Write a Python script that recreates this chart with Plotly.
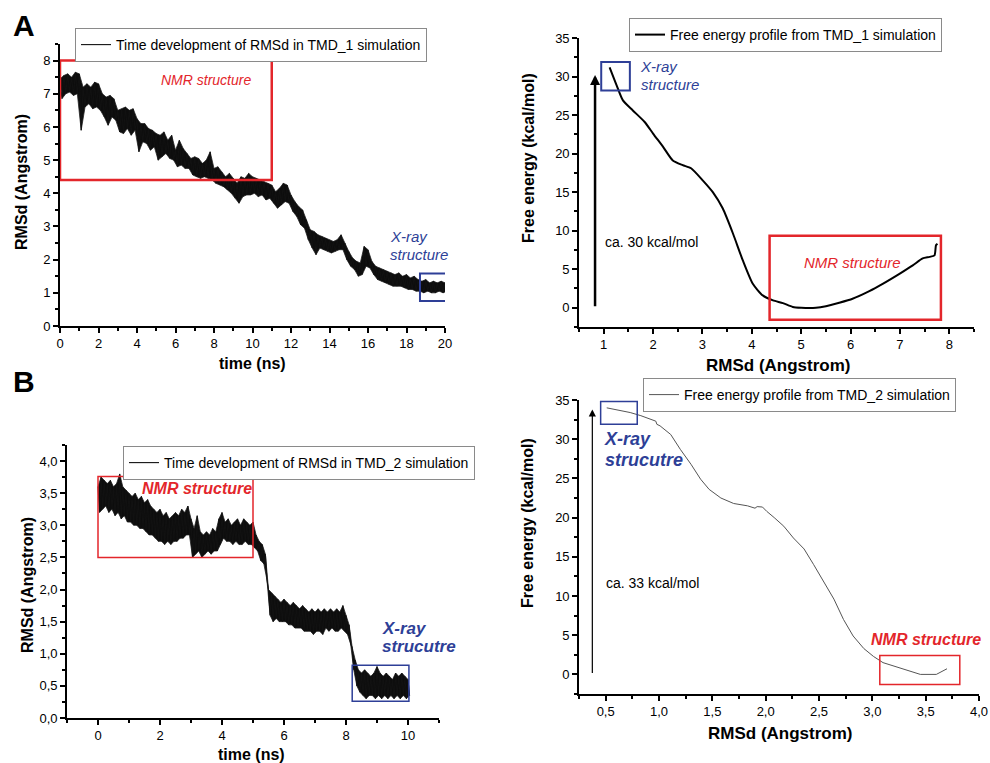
import numpy as np
import plotly.graph_objects as go

# ---------------- DATA ----------------
# Panel A (left): RMSd trace of TMD_1, upper/lower envelope of the noisy band every 0.2 ns
tmd1_time = [round(i * 0.2, 1) for i in range(101)]
tmd1_hi = [7.45, 7.55, 7.6, 7.5, 7.65, 7.6, 7.2, 7.3, 7.2, 7.35,
           7.3, 7.0, 6.9, 6.95, 6.85, 6.5, 6.55, 6.6, 6.5, 6.55,
           6.25, 6.1, 6.1, 5.95, 5.9, 5.8, 5.75, 5.85, 5.6, 5.75,
           5.3, 5.6, 5.35, 5.2, 5.05, 5.1, 5.05, 4.9, 5.0, 5.25,
           4.75, 4.8, 4.65, 4.5, 4.6, 4.45, 4.3, 4.5, 4.45, 4.6,
           4.5, 4.45, 4.4, 4.35, 4.3, 4.25, 4.05, 4.15, 4.3, 4.25,
           3.95, 3.75, 3.6, 3.5, 3.2, 2.9, 2.85, 2.75, 2.7, 2.65,
           2.6, 2.55, 2.6, 2.75, 2.5, 2.25, 2.05, 1.95, 1.9, 2.4,
           2.3, 1.95, 1.8, 1.75, 1.7, 1.65, 1.6, 1.55, 1.6, 1.5,
           1.55, 1.45, 1.5, 1.4, 1.35, 1.4, 1.3, 1.35, 1.3, 1.35, 1.3]
tmd1_lo = [6.85, 7.0, 7.05, 6.95, 7.0, 5.9, 6.6, 6.7, 6.55, 6.6,
           6.5, 6.3, 6.05, 6.3, 6.2, 5.85, 5.8, 5.95, 5.75, 5.9,
           5.25, 5.55, 5.5, 5.3, 5.4, 5.0, 5.1, 5.2, 5.05, 5.0,
           4.8, 4.85, 4.75, 4.75, 4.55, 4.5, 4.45, 4.5, 4.45, 4.4,
           4.3, 4.25, 4.2, 4.1, 4.0, 3.85, 3.7, 3.9, 3.95, 3.95,
           4.0, 3.9, 3.95, 3.8, 3.85, 3.7, 3.55, 3.65, 3.75, 3.7,
           3.45, 3.3, 3.05, 2.95, 2.6, 2.35, 2.15, 2.35, 2.3, 2.25,
           2.2, 2.25, 2.3, 2.3, 2.0, 1.8, 1.7, 1.5, 1.55, 1.8,
           1.75, 1.55, 1.4, 1.35, 1.3, 1.25, 1.2, 1.2, 1.2, 1.15,
           1.1, 1.1, 1.05, 1.05, 1.0, 1.05, 1.0, 1.0, 1.05, 1.0, 1.05]

# Panel A (right): free energy profile from TMD_1
fe1_rmsd = [1.12, 1.26, 1.39, 1.59, 1.83, 2.0, 2.2, 2.4, 2.6, 2.77, 3.01, 3.21, 3.41,
            3.62, 3.82, 4.02, 4.22, 4.43, 4.63, 4.83, 5.0, 5.3, 5.5, 5.77, 6.04,
            6.38, 6.65, 6.99, 7.26, 7.46, 7.6, 7.7, 7.73, 7.76]
fe1_energy = [31.2, 28.9, 26.9, 25.6, 24.1, 22.6, 20.9, 19.1, 18.5, 18.1, 16.5, 15.0, 12.9,
              9.6, 6.1, 3.1, 1.6, 0.95, 0.6, 0.1, 0.0, 0.0, 0.2, 0.65, 1.17,
              2.16, 3.1, 4.4, 5.5, 6.4, 6.6, 6.8, 8.1, 8.3]

# Panel B (left): RMSd trace of TMD_2, envelope every 0.1 ns
tmd2_time = [round(i * 0.1, 1) for i in range(101)]
tmd2_hi = [3.6, 3.75, 3.7, 3.65, 3.7, 3.6, 3.65, 3.8, 3.6, 3.55,
           3.5, 3.45, 3.5, 3.4, 3.45, 3.35, 3.4, 3.3, 3.25, 3.2,
           3.25, 3.15, 3.2, 3.1, 3.15, 3.2, 3.15, 3.25, 3.2, 3.3,
           3.1, 2.95, 3.15, 2.9, 2.85, 2.9, 2.85, 2.95, 2.9, 3.1,
           3.2, 3.05, 3.1, 3.0, 3.05, 3.1, 3.0, 3.1, 3.05, 3.0,
           3.05, 2.85, 2.75, 2.7, 2.55, 2.0, 1.95, 1.9, 1.85, 1.8,
           1.85, 1.8, 1.75, 1.8, 1.75, 1.7, 1.75, 1.7, 1.65, 1.7,
           1.65, 1.7, 1.65, 1.7, 1.65, 1.7, 1.65, 1.7, 1.65, 1.75,
           1.6, 1.45, 1.1, 0.9, 0.75, 0.7, 0.75, 0.7, 0.65, 0.7,
           0.8, 0.7, 0.65, 0.7, 0.65, 0.6, 0.7, 0.65, 0.7, 0.65, 0.6]
tmd2_lo = [3.2, 3.25, 3.3, 3.2, 3.25, 3.15, 3.2, 3.1, 3.15, 3.05,
           3.05, 3.0, 3.0, 2.95, 2.95, 2.9, 2.85, 2.85, 2.8, 2.75,
           2.75, 2.7, 2.75, 2.7, 2.75, 2.75, 2.8, 2.8, 2.85, 2.85,
           2.5, 2.55, 2.6, 2.5, 2.55, 2.6, 2.55, 2.6, 2.6, 2.7,
           2.8, 2.75, 2.75, 2.7, 2.75, 2.7, 2.7, 2.75, 2.7, 2.7,
           2.65, 2.6, 2.45, 2.4, 2.15, 1.6, 1.5, 1.55, 1.5, 1.5,
           1.5, 1.45, 1.45, 1.4, 1.4, 1.4, 1.35, 1.35, 1.35, 1.3,
           1.35, 1.35, 1.3, 1.4, 1.35, 1.4, 1.35, 1.35, 1.4, 1.35,
           1.3, 1.15, 0.75, 0.5, 0.4, 0.35, 0.3, 0.35, 0.35, 0.3,
           0.35, 0.3, 0.35, 0.3, 0.35, 0.3, 0.35, 0.3, 0.35, 0.3, 0.35]

# Panel B (right): free energy profile from TMD_2
fe2_rmsd = [0.51, 0.61, 0.73, 0.83, 0.92, 0.97, 0.98, 1.01, 1.11, 1.2, 1.3, 1.39, 1.47,
            1.58, 1.7, 1.83, 1.9, 1.92, 1.97, 2.01, 2.08, 2.17, 2.26, 2.36, 2.45,
            2.54, 2.64, 2.73, 2.82, 2.92, 3.01, 3.1, 3.23, 3.35, 3.45, 3.6, 3.7]
fe2_energy = [34.0, 33.7, 33.4, 33.0, 32.6, 32.3, 31.9, 31.7, 30.6, 28.7, 26.8, 24.9, 23.6,
              22.5, 21.8, 21.5, 21.2, 21.4, 21.35, 20.8, 20.0, 18.9, 17.4, 16.0, 14.0,
              11.9, 9.6, 7.0, 4.9, 3.3, 2.3, 1.5, 0.94, 0.47, 0.0, 0.0, 0.72]

# ---------------- STYLE ----------------
FONT = "Liberation Sans, Arial, sans-serif"
RED = "#e3262b"
BLUE = "#2e3f97"
H, W = 763.0, 990.0


def zigzag(t, hi, lo):
    t = np.asarray(t, float)
    step = t[1] - t[0]
    xs = np.empty(2 * len(t))
    ys = np.empty(2 * len(t))
    xs[0::2] = t
    xs[1::2] = t + step / 2
    ys[0::2] = hi
    ys[1::2] = lo
    return xs, ys


def band(t, hi, lo):
    t = np.asarray(t, float)
    step = t[1] - t[0]
    xs = np.concatenate([t, (t + step / 2)[::-1]])
    ys = np.concatenate([np.asarray(hi), np.asarray(lo)[::-1]])
    return xs, ys


fig = go.Figure()

bx1, by1 = band(tmd1_time, tmd1_hi, tmd1_lo)
fig.add_trace(go.Scatter(x=bx1, y=by1, mode="lines", fill="toself", fillcolor="#0d0d0d",
                         line=dict(color="#222222", width=0.8, simplify=False), showlegend=False,
                         hoverinfo="skip", xaxis="x", yaxis="y"))
x1, y1 = zigzag(tmd1_time, tmd1_hi, tmd1_lo)
fig.add_trace(go.Scatter(x=x1, y=y1, mode="lines", line=dict(color="#111111", width=1.1, simplify=False),
                         name="Time development of RMSd in TMD_1 simulation", showlegend=True,
                         xaxis="x", yaxis="y", legend="legend"))
fig.add_trace(go.Scatter(x=fe1_rmsd, y=fe1_energy, mode="lines",
                         line=dict(color="black", width=2, shape="spline", smoothing=0.6),
                         name="Free energy profile from TMD_1 simulation", showlegend=True,
                         xaxis="x2", yaxis="y2", legend="legend2"))
bx3, by3 = band(tmd2_time, tmd2_hi, tmd2_lo)
fig.add_trace(go.Scatter(x=bx3, y=by3, mode="lines", fill="toself", fillcolor="#0d0d0d",
                         line=dict(color="#222222", width=0.8, simplify=False), showlegend=False,
                         hoverinfo="skip", xaxis="x3", yaxis="y3"))
x3, y3 = zigzag(tmd2_time, tmd2_hi, tmd2_lo)
fig.add_trace(go.Scatter(x=x3, y=y3, mode="lines", line=dict(color="#111111", width=1.1, simplify=False),
                         name="Time development of RMSd in TMD_2 simulation", showlegend=True,
                         xaxis="x3", yaxis="y3", legend="legend3"))
fig.add_trace(go.Scatter(x=fe2_rmsd, y=fe2_energy, mode="lines", line=dict(color="#555555", width=1),
                         name="Free energy profile from TMD_2 simulation", showlegend=True,
                         xaxis="x4", yaxis="y4", legend="legend4"))


def ax(domain, rng, dtick, minor, tick0=None, fmt=None, anchor=None):
    d = dict(domain=domain, range=rng, dtick=dtick, showline=True, linecolor="black", linewidth=1.6,
             ticks="outside", ticklen=5, tickwidth=1.5, tickcolor="black", automargin=False,
             showgrid=False, zeroline=False, mirror=False,
             tickfont=dict(family=FONT, size=13, color="black"),
             minor=dict(dtick=minor, ticks="outside", ticklen=3, tickwidth=1.5, tickcolor="black", showgrid=False),
             anchor=anchor)
    if tick0 is not None:
        d["tick0"] = tick0
    if fmt is not None:
        d["tickformat"] = fmt
    return d


fig.update_layout(
    width=990, height=763, margin=dict(l=0, r=0, t=0, b=0, autoexpand=False),
    paper_bgcolor="white", plot_bgcolor="white", separators=",.", showlegend=True,
    font=dict(family=FONT, color="black"),
    xaxis=ax([60 / W, 445 / W], [0, 20], 2, 1, anchor="y"),
    yaxis=ax([1 - 326 / H, 1 - 44 / H], [0, 8.5], 1, 0.5, anchor="x"),
    xaxis2=ax([579 / W, 974 / W], [0.5, 8.5], 1, 0.5, anchor="y2"),
    yaxis2=ax([1 - 327 / H, 1 - 38 / H], [-2.5, 35], 5, 2.5, tick0=0, anchor="x2"),
    xaxis3=ax([67 / W, 439 / W], [-1, 11], 2, 1, tick0=0, anchor="y3"),
    yaxis3=ax([1 - 718 / H, 1 - 445 / H], [0, 4.25], 0.5, 0.25, fmt=".1f", anchor="x3"),
    xaxis4=ax([579 / W, 979 / W], [0.25, 4.0], 0.5, 0.25, tick0=0.5, fmt=".1f", anchor="y4"),
    yaxis4=ax([1 - 694 / H, 1 - 400 / H], [-2.5, 35], 5, 2.5, tick0=0, anchor="x4"),
)

legend_style = dict(bgcolor="white", bordercolor="#8a8a8a", borderwidth=1,
                    font=dict(family=FONT, size=14, color="black"),
                    xanchor="left", yanchor="top", itemwidth=30, tracegroupgap=0)
fig.update_layout(
    legend=dict(x=75 / W, y=1 - 28 / H, **legend_style),
    legend2=dict(x=629 / W, y=1 - 18 / H, **legend_style),
    legend3=dict(x=123 / W, y=1 - 446 / H, **legend_style),
    legend4=dict(x=643 / W, y=1 - 378 / H, **legend_style),
)

shapes = [
    dict(type="rect", xref="x", yref="y", x0=0, x1=11, y0=4.4, y1=8.0, line=dict(color=RED, width=2.5)),
    dict(type="rect", xref="x", yref="y", x0=18.7, x1=20.1, y0=0.75, y1=1.58, line=dict(color=BLUE, width=2)),
    dict(type="rect", xref="x2", yref="y2", x0=0.95, x1=1.53, y0=28.2, y1=31.9, line=dict(color=BLUE, width=2)),
    dict(type="rect", xref="x2", yref="y2", x0=4.36, x1=7.83, y0=-1.56, y1=9.35, line=dict(color=RED, width=2.5)),
    dict(type="rect", xref="x3", yref="y3", x0=0, x1=5.0, y0=2.5, y1=3.76, line=dict(color=RED, width=1.5)),
    dict(type="rect", xref="x3", yref="y3", x0=8.2, x1=10.03, y0=0.26, y1=0.82, line=dict(color=BLUE, width=1.5)),
    dict(type="rect", xref="x4", yref="y4", x0=0.453, x1=0.796, y0=31.9, y1=34.8, line=dict(color=BLUE, width=1.5)),
    dict(type="rect", xref="x4", yref="y4", x0=3.07, x1=3.82, y0=-1.28, y1=2.42, line=dict(color=RED, width=1.5)),
]
fig.update_layout(shapes=shapes)


def txt(text, x, y, xref, yref, size, color, xanchor="left", bold=False, italic=True, angle=0):
    return dict(text=text, x=x, y=y, xref=xref, yref=yref, showarrow=False, xanchor=xanchor, yanchor="middle",
                textangle=angle,
                font=dict(family=FONT, size=size, color=color, weight="bold" if bold else "normal",
                          style="italic" if italic else "normal"))


def ptxt(text, px, py, size, angle=0):
    return txt(text, px / W, 1 - py / H, "paper", "paper", size, "black", xanchor="center",
               bold=True, italic=False, angle=angle)


annotations = [
    ptxt("A", 24, 25, 30),
    ptxt("B", 24, 381, 30),
    # axis titles
    ptxt("RMSd (Angstrom)", 21, 182, 16, angle=-90),
    ptxt("time (ns)", 253, 363, 16),
    ptxt("Free energy (kcal/mol)", 528, 158, 16, angle=-90),
    ptxt("RMSd (Angstrom)", 778, 365, 17),
    ptxt("RMSd (Angstrom)", 27, 585, 16, angle=-90),
    ptxt("time (ns)", 252, 754, 16),
    ptxt("Free energy (kcal/mol)", 527, 523, 16, angle=-90),
    ptxt("RMSd (Angstrom)", 780, 733, 17),
    # in-plot labels
    txt("NMR structure", 7.6, 7.4, "x", "y", 14, RED, xanchor="center"),
    txt("X-ray", 17.05, 2.69, "x", "y", 15, BLUE),
    txt("structure", 17.05, 2.17, "x", "y", 15, BLUE),
    txt("X-ray", 1.7, 31.3, "x2", "y2", 15, BLUE),
    txt("structure", 1.72, 29.0, "x2", "y2", 15, BLUE),
    txt("NMR structure", 6.04, 5.9, "x2", "y2", 15, RED, xanchor="center"),
    txt("ca. 30 kcal/mol", 0.99, 8.5, "x2", "y2", 14, "black", italic=False),
    txt("NMR structure", 3.19, 3.57, "x3", "y3", 16, RED, xanchor="center", bold=True),
    txt("X-ray", 9.09, 1.40, "x3", "y3", 17, BLUE, bold=True),
    txt("strucutre", 9.1, 1.11, "x3", "y3", 17, BLUE, bold=True),
    txt("X-ray", 0.47, 30.0, "x4", "y4", 18, BLUE, bold=True),
    txt("strucutre", 0.475, 27.4, "x4", "y4", 18, BLUE, bold=True),
    txt("NMR structure", 2.97, 4.47, "x4", "y4", 16, RED, bold=True),
    txt("ca. 33 kcal/mol", 0.485, 11.6, "x4", "y4", 14, "black", italic=False),
    dict(x=0.825, y=30.2, ax=0.825, ay=0, xref="x2", yref="y2", axref="x2", ayref="y2",
         showarrow=True, arrowhead=2, arrowsize=0.8, arrowwidth=2.5, arrowcolor="black", text=""),
    dict(x=0.375, y=33.8, ax=0.375, ay=0, xref="x4", yref="y4", axref="x4", ayref="y4",
         showarrow=True, arrowhead=2, arrowsize=1.2, arrowwidth=1.2, arrowcolor="black", text=""),
]
fig.update_layout(annotations=annotations)

fig.write_html("out.html")
